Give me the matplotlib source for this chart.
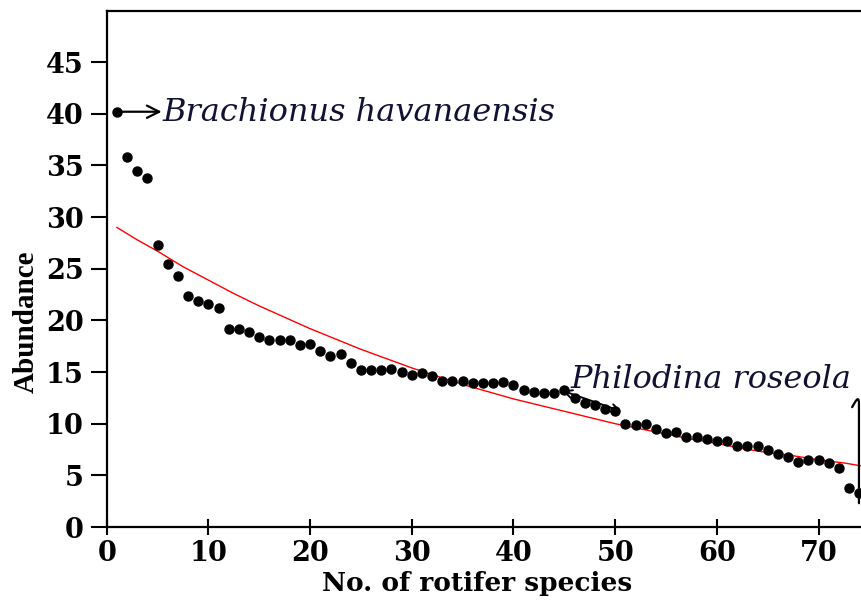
import matplotlib
matplotlib.use("Agg")
import matplotlib.pyplot as plt

# rank abundance of rotifer species
species_rank = list(range(1, 75))
abundance = [40.2, 35.8, 34.5, 33.8, 27.3, 25.5, 24.3, 22.4, 21.9, 21.6,
             21.2, 19.2, 19.2, 18.9, 18.4, 18.1, 18.1, 18.1, 17.6, 17.7,
             17.0, 16.6, 16.7, 15.9, 15.2, 15.2, 15.2, 15.3, 15.0, 14.7,
             14.9, 14.6, 14.1, 14.1, 14.1, 13.9, 13.9, 13.9, 14.0, 13.7,
             13.3, 13.1, 13.0, 13.0, 13.3, 12.5, 12.0, 11.8, 11.4, 11.2,
             10.0, 9.9, 10.0, 9.5, 9.1, 9.2, 8.7, 8.7, 8.5, 8.3,
             8.3, 7.8, 7.8, 7.8, 7.5, 7.1, 6.8, 6.3, 6.5, 6.5,
             6.2, 5.7, 3.8, 3.3]

# fitted curve
fit_x = [1, 3, 5, 7.5, 10, 12.5, 15, 17.5, 20, 22.5, 25, 27.5, 30, 32.5,
         35, 37.5, 40, 42.5, 45, 47.5, 50, 52.5, 55, 57.5, 60, 62.5, 65,
         67.5, 70, 72.5, 74.3]
fit_y = [29.0, 27.8, 26.7, 25.2, 23.9, 22.6, 21.4, 20.3, 19.2, 18.2,
         17.2, 16.3, 15.4, 14.6, 13.8, 13.1, 12.4, 11.8, 11.2, 10.6,
         10.0, 9.5, 9.0, 8.5, 8.1, 7.6, 7.2, 6.9, 6.5, 6.2, 5.9]

xticks = [0, 10, 20, 30, 40, 50, 60, 70]
yticks = [0, 5, 10, 15, 20, 25, 30, 35, 40, 45]

fig = plt.figure(figsize=(8.62, 6.01), dpi=100)
ax = fig.add_axes([106.7 / 862, 1 - 527 / 601, 1 - 106.7 / 862, (527 - 10.5) / 601])

ax.plot(fit_x, fit_y, color="red", lw=1.0, zorder=2)
ax.plot(species_rank, abundance, "o", color="black", ms=6.5, zorder=3)

ax.set_xlim(0, 74.27)
ax.set_ylim(0, 50)
ax.set_xticks(xticks)
ax.set_yticks(yticks)
ax.spines["right"].set_visible(False)
for s in ["left", "bottom", "top"]:
    ax.spines[s].set_linewidth(1.6)
ax.tick_params(axis="y", direction="out", length=11.5, width=1.5, pad=5)
ax.tick_params(axis="x", direction="inout", length=11, width=1.5, pad=4)

tick_font = {"family": "DejaVu Serif", "weight": "bold", "size": 19.5}
ax.set_xticklabels([str(t) for t in xticks], fontdict=tick_font)
ax.set_yticklabels([str(t) for t in yticks], fontdict=tick_font)

fig.text(477 / 862, 1 - 583 / 601, "No. of rotifer species", ha="center", va="center",
         family="DejaVu Serif", weight="bold", size=19)
fig.text(26 / 862, 1 - 322 / 601, "Abundance", ha="center", va="center", rotation=90,
         family="Liberation Serif", weight="bold", size=21)

# annotations
ax.annotate("", xy=(5.4, 40.2), xytext=(1, 40.2),
            arrowprops=dict(arrowstyle="->", lw=1.6, color="black",
                            mutation_scale=22, shrinkA=0, shrinkB=0))
ax.text(5.5, 40.1, "Brachionus havanaensis", style="italic", family="DejaVu Serif",
        size=23, color="#111133", va="center", ha="left")

ax.text(45.65, 14.3, "Philodina roseola", style="italic", family="DejaVu Serif",
        size=23, color="#111133", va="center", ha="left", clip_on=False)
ax.annotate("", xy=(50.6, 11.2), xytext=(44.8, 13.2),
            arrowprops=dict(arrowstyle="<->", lw=1.4, color="black",
                            mutation_scale=14, shrinkA=0, shrinkB=0))
ax.annotate("", xy=(73.97, 2.3), xytext=(73.3, 11.6),
            arrowprops=dict(arrowstyle="-", lw=1.6, color="black",
                            connectionstyle="angle,angleA=60,angleB=90,rad=8",
                            shrinkA=0, shrinkB=0))

fig.savefig("out.png", dpi=100, facecolor="white")
